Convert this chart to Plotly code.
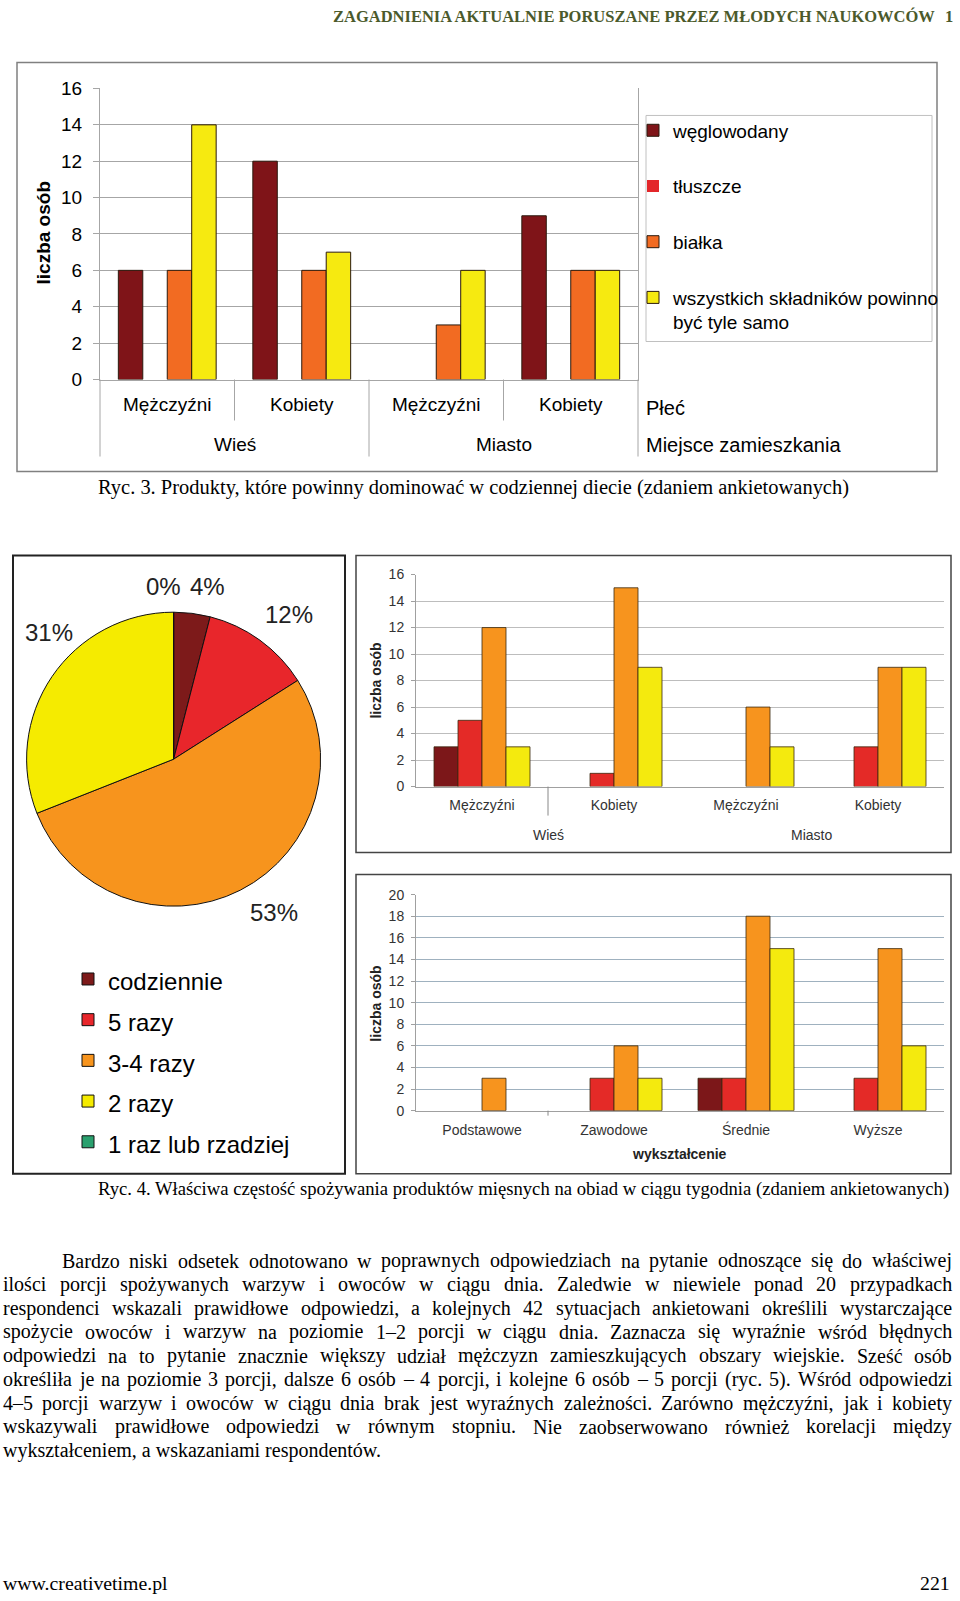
import unicodedata
import plotly.graph_objects as go

W, H = 960, 1601
# the photographed page comes out slightly offset/squeezed vertically;
# positions below are given in the reference's pixels and mapped through this
Y_SCALE, Y_SHIFT = 1.0135, -8.69

# ---------------- data ----------------
place = ["Wieś", "Wieś", "Miasto", "Miasto"]
sex = ["Mężczyźni", "Kobiety", "Mężczyźni", "Kobiety"]
place_groups = ["Wieś", "Miasto"]
nutrient_names = ["węglowodany", "tłuszcze", "białka",
                  "wszystkich składników powinno być tyle samo"]
carbs = [6, 12, 0, 9]
fats = [0, 0, 0, 0]
proteins = [6, 6, 3, 6]
all_equal = [14, 7, 6, 6]
ticks_16 = [0, 2, 4, 6, 8, 10, 12, 14, 16]

freq_labels = ["codziennie", "5 razy", "3-4 razy", "2 razy", "1 raz lub rzadziej"]
freq_pct = [4, 12, 53, 31, 0]

daily_place = [3, 0, 0, 0]
five_place = [5, 1, 0, 3]
three4_place = [12, 15, 6, 9]
two_place = [3, 9, 3, 9]

education = ["Podstawowe", "Zawodowe", "Średnie", "Wyższe"]
daily_edu = [0, 0, 3, 0]
five_edu = [0, 3, 3, 3]
three4_edu = [3, 6, 18, 15]
two_edu = [0, 3, 15, 6]
ticks_20 = [0, 2, 4, 6, 8, 10, 12, 14, 16, 18, 20]

header_text = "ZAGADNIENIA AKTUALNIE PORUSZANE PRZEZ MŁODYCH NAUKOWCÓW"
header_num = "1"
caption3 = "Ryc. 3. Produkty, które powinny dominować w codziennej diecie (zdaniem ankietowanych)"
caption4 = ("Ryc. 4. Właściwa częstość spożywania produktów mięsnych na obiad w ciągu tygodnia "
            "(zdaniem ankietowanych)")
body_lines = [
    "Bardzo niski odsetek odnotowano w poprawnych odpowiedziach na pytanie odnoszące się do właściwej",
    "ilości porcji spożywanych warzyw i owoców w ciągu dnia. Zaledwie w niewiele ponad 20 przypadkach",
    "respondenci wskazali prawidłowe odpowiedzi, a kolejnych 42 sytuacjach ankietowani określili wystarczające",
    "spożycie owoców i warzyw na poziomie 1–2 porcji w ciągu dnia. Zaznacza się wyraźnie wśród błędnych",
    "odpowiedzi na to pytanie znacznie większy udział mężczyzn zamieszkujących obszary wiejskie. Sześć osób",
    "określiła je na poziomie 3 porcji, dalsze 6 osób – 4 porcji, i kolejne 6 osób – 5 porcji (ryc. 5). Wśród odpowiedzi",
    "4–5 porcji warzyw i owoców w ciągu dnia brak jest wyraźnych zależności. Zarówno mężczyźni, jak i kobiety",
    "wskazywali prawidłowe odpowiedzi w równym stopniu. Nie zaobserwowano również korelacji między",
    "wykształceniem, a wskazaniami respondentów.",
]
footer_left = "www.creativetime.pl"
footer_right = "221"

SANS = "Liberation Sans, Arial, Helvetica, sans-serif"
SERIF = "Liberation Serif, Times New Roman, serif"


def px(x):
    return x / W


def py(y):
    return 1 - (Y_SCALE * y + Y_SHIFT) / H


REG = {' ': 250, '.': 250, ',': 250, '(': 333, ')': 333, '-': 333, '–': 500, ':': 278,
       ';': 278, '%': 833, '/': 278,
       'A': 722, 'B': 667, 'C': 667, 'D': 722, 'E': 611, 'F': 556, 'G': 722, 'H': 722,
       'I': 333, 'J': 389, 'K': 722, 'L': 611, 'M': 889, 'N': 722, 'O': 722, 'P': 556,
       'Q': 722, 'R': 667, 'S': 556, 'T': 611, 'U': 722, 'V': 722, 'W': 944, 'X': 722,
       'Y': 722, 'Z': 611,
       'a': 444, 'b': 500, 'c': 444, 'd': 500, 'e': 444, 'f': 333, 'g': 500, 'h': 500,
       'i': 278, 'j': 278, 'k': 500, 'l': 278, 'm': 778, 'n': 500, 'o': 500, 'p': 500,
       'q': 500, 'r': 333, 's': 389, 't': 278, 'u': 500, 'v': 500, 'w': 722, 'x': 500,
       'y': 500, 'z': 444}
BOLD = {' ': 250, '.': 250,
        'A': 722, 'B': 667, 'C': 722, 'D': 722, 'E': 667, 'F': 611, 'G': 778, 'H': 778,
        'I': 389, 'J': 500, 'K': 778, 'L': 667, 'M': 944, 'N': 722, 'O': 778, 'P': 611,
        'Q': 778, 'R': 722, 'S': 556, 'T': 667, 'U': 722, 'V': 722, 'W': 1000, 'X': 722,
        'Y': 722, 'Z': 667}


def base(ch):
    if ch == 'ł':
        return 'l'
    if ch == 'Ł':
        return 'L'
    d = unicodedata.normalize('NFD', ch)
    return d[0] if d else ch


def tw(s, bold=False):
    table = BOLD if bold else REG
    return sum(table.get(base(c), REG.get(base(c), 500)) for c in s) / 1000.0


fig = go.Figure()


def add_text(x, y, s, size, family=SERIF, color="#000", xanchor="left",
             yanchor="middle", bold=False, angle=0, xref="paper"):
    txt = f"<b>{s}</b>" if bold else s
    fig.add_annotation(x=(x if xref != "paper" else px(x)), y=py(y), xref=xref,
                       yref="paper", text=txt, showarrow=False, xanchor=xanchor,
                       yanchor=yanchor, font=dict(size=size, family=family, color=color),
                       textangle=angle, borderpad=0)


def rect(x0, y0, x1, y1, color, width, fill="rgba(0,0,0,0)"):
    fig.add_shape(type="rect", xref="paper", yref="paper", x0=px(x0), x1=px(x1),
                  y0=py(y1), y1=py(y0), line=dict(color=color, width=width),
                  fillcolor=fill, layer="above")


def vline(xref, xd, y0, y1, color, width=1):
    fig.add_shape(type="line", xref=xref, yref="paper", x0=xd, x1=xd,
                  y0=py(y1), y1=py(y0), line=dict(color=color, width=width))


def outlines(vals, w):
    return [w if v > 0 else 0 for v in vals]


group_keys = [f"{p} / {s}" for p, s in zip(place, sex)]

# ---------------- Ryc. 3 ----------------
c1_colors = ["#7f1418", "#e3262a", "#f26b22", "#f6ea10"]
for nm, vals, col in zip(nutrient_names, [carbs, fats, proteins, all_equal], c1_colors):
    fig.add_trace(go.Bar(
        x=group_keys, y=vals, name=nm.replace("powinno ", "powinno<br>"),
        legendgroup=nm, legend="legend",
        marker=dict(color=col, line=dict(color="#2b1a0e", width=outlines(vals, 1))),
        xaxis="x", yaxis="y", hoverinfo="y+name"))

# ---------------- Ryc. 4 pie ----------------
pie_colors = ["#7d1a1a", "#e8262b", "#f7941d", "#f5eb00", "#2aa06e"]
pcx, pcy, pr = 173.6, 757.6, 147
fig.add_trace(go.Pie(
    labels=[f"<span style='font-size:24px'>{l}</span>" for l in freq_labels],
    values=freq_pct, sort=False, direction="clockwise", rotation=0,
    marker=dict(colors=pie_colors, line=dict(color="#111", width=1)),
    textinfo="none",
    domain=dict(x=[px(pcx - pr), px(pcx + pr)], y=[py(pcy + pr), py(pcy - pr)]),
    legend="legend2", showlegend=True, hoverinfo="label+percent"))
pie_label_pos = [(207, 585), (289, 613), (274, 911), (49, 631), (163, 585)]
for v, (lx, ly) in zip(freq_pct, pie_label_pos):
    add_text(lx, ly, f"{v}%", 24, family=SANS, color="#222", xanchor="center")

# ---------------- Ryc. 4 bars ----------------
c4_colors = ["#7c1719", "#e42a27", "#f7941e", "#f4ea0e"]
for lab, vals, col in zip(freq_labels[:4], [daily_place, five_place, three4_place, two_place], c4_colors):
    fig.add_trace(go.Bar(
        x=group_keys, y=vals, name=lab, showlegend=False,
        marker=dict(color=col, line=dict(color="#3a2a10", width=outlines(vals, 0.8))),
        xaxis="x2", yaxis="y2", hoverinfo="y+name"))
for lab, vals, col in zip(freq_labels[:4], [daily_edu, five_edu, three4_edu, two_edu], c4_colors):
    fig.add_trace(go.Bar(
        x=education, y=vals, name=lab, showlegend=False,
        marker=dict(color=col, line=dict(color="#3a2a10", width=outlines(vals, 0.8))),
        xaxis="x3", yaxis="y3", hoverinfo="y+name"))

grey1 = "#a6a6a6"
fig.update_layout(
    width=W, height=H, margin=dict(l=0, r=0, t=0, b=0),
    paper_bgcolor="white", plot_bgcolor="white",
    barmode="group", bargap=0.2727, bargroupgap=0,
    font=dict(family=SANS, color="#000"),
    xaxis=dict(domain=[px(100), px(638)], anchor="y", type="category",
               tickvals=group_keys, ticktext=sex,
               showline=True, linecolor=grey1, ticks="", showgrid=False,
               tickfont=dict(size=19, color="#000"), ticklabelstandoff=8),
    yaxis=dict(domain=[py(378), py(87)], anchor="x", range=[0, 16],
               tickvals=ticks_16, showgrid=True, gridcolor=grey1, gridwidth=1,
               showline=True, mirror=True, linecolor=grey1, zeroline=False,
               ticks="outside", ticklen=6, tickcolor=grey1,
               tickfont=dict(size=19, color="#000"), ticklabelstandoff=7),
    xaxis2=dict(domain=[px(416), px(944)], anchor="y2", type="category",
                tickvals=group_keys, ticktext=sex,
                showline=True, linecolor="#a0a0a0", ticks="",
                showgrid=False, tickfont=dict(size=14, color="#333"),
                ticklabelstandoff=6),
    yaxis2=dict(domain=[py(785), py(573)], anchor="x2", range=[0, 16],
                tickvals=ticks_16, showgrid=True, gridcolor="#bdbdbd",
                showline=True, linecolor="#a0a0a0", zeroline=False,
                ticks="outside", ticklen=4, tickcolor="#a0a0a0",
                tickfont=dict(size=14, color="#333"), ticklabelstandoff=4),
    xaxis3=dict(domain=[px(416), px(944)], anchor="y3", type="category",
                showline=True, linecolor="#a0a0a0", ticks="", showgrid=False,
                tickfont=dict(size=14, color="#333"), ticklabelstandoff=7),
    yaxis3=dict(domain=[py(1109), py(893)], anchor="x3", range=[0, 20],
                tickvals=ticks_20, showgrid=True, gridcolor="#9fb1bf",
                showline=True, linecolor="#a0a0a0", zeroline=False,
                ticks="outside", ticklen=4, tickcolor="#a0a0a0",
                tickfont=dict(size=14, color="#333"), ticklabelstandoff=4),
    legend=dict(x=px(633), y=py(110), xanchor="left", yanchor="top",
                font=dict(size=19, family=SANS, color="#000"), tracegroupgap=28,
                traceorder="grouped", valign="top", bgcolor="rgba(0,0,0,0)",
                borderwidth=0, itemclick=False, itemdoubleclick=False),
    legend2=dict(x=px(68), y=py(952), xanchor="left", yanchor="top",
                 font=dict(size=29, family=SANS, color="#000"),
                 bgcolor="rgba(0,0,0,0)", borderwidth=0,
                 itemclick=False, itemdoubleclick=False),
)

# ---------------- frames & separators ----------------
rect(17, 61, 937, 470, "#808080", 1.5)
rect(646, 114, 932, 340, "#c0c0c0", 1)
rect(13, 554, 345, 1172, "#222", 2)
rect(356, 554, 951, 851, "#444", 1.5)
rect(356, 873, 951, 1172, "#444", 1.5)
for d in [0, 0.5, 1]:
    vline("x domain", d, 378, 455, grey1)
for d in [0.25, 0.75]:
    vline("x domain", d, 378, 419, grey1)
vline("x2 domain", 0.25, 785, 814, "#888")
vline("x3 domain", 0.25, 1109, 1114, "#888")

for i, g in enumerate(place_groups):
    add_text(0.25 + 0.5 * i, 443, g, 19, family=SANS, xanchor="center", xref="x domain")
    add_text(0.25 + 0.5 * i, 833, g, 14, family=SANS, color="#333", xanchor="center",
             xref="x2 domain")

# ---------------- chart labels ----------------
add_text(43, 232, "liczba osób", 19, family=SANS, xanchor="center", bold=True, angle=-90)
add_text(645, 406, "Płeć", 20, family=SANS)
add_text(645, 443, "Miejsce zamieszkania", 20, family=SANS)
add_text(376, 679, "liczba osób", 14, family=SANS, color="#222", xanchor="center", bold=True, angle=-90)
add_text(376, 1002, "liczba osób", 14, family=SANS, color="#222", xanchor="center", bold=True, angle=-90)
add_text(679, 1152, "wykształcenie", 14, family=SANS, color="#222", xanchor="center", bold=True)

# ---------------- page text ----------------
hsize = 604 / tw(header_text, bold=True)
add_text(936, 15.5, header_text, hsize, color="#4b5a2b", xanchor="right", bold=True)
add_text(954, 15.5, header_num, hsize, color="#4b5a2b", xanchor="right", bold=True)

add_text(97, 486, caption3, 0.993 * 759 / tw(caption3))
add_text(97, 1187, caption4, 853 / tw(caption4))

x0b, x1b, indent = 2, 951, 61
avail = [(x1b - (indent if i == 0 else x0b)) / tw(l) for i, l in enumerate(body_lines[:-1])]
bsize = min(20, min(avail) * 0.995)
for i, line in enumerate(body_lines):
    yb = 1259 + i * 23.75
    start = indent if i == 0 else x0b
    if i == len(body_lines) - 1:
        add_text(start, yb, line, bsize)
        continue
    words = line.split(" ")
    ws = [tw(w) * bsize for w in words]
    gap = (x1b - start - sum(ws)) / (len(words) - 1)
    pos = start
    for w, wd in zip(words, ws):
        add_text(pos, yb, w, bsize)
        pos += wd + gap

fsize = 166 / tw(footer_left)
add_text(2, 1581, footer_left, fsize)
add_text(951, 1581, footer_right, fsize, xanchor="right")

pin_page = (
    "document.documentElement.style.margin='0';"
    "document.body.style.margin='0';"
    "document.body.style.padding='0';"
    "document.documentElement.style.overflow='hidden';"
    "document.body.style.overflow='hidden';"
    "var gd=document.getElementById('{plot_id}');"
    "gd.style.position='fixed';gd.style.top='0px';gd.style.left='0px';"
)
fig.write_html("out.html", include_plotlyjs=True, full_html=True,
               config={"displayModeBar": False, "responsive": False},
               post_script=pin_page)
